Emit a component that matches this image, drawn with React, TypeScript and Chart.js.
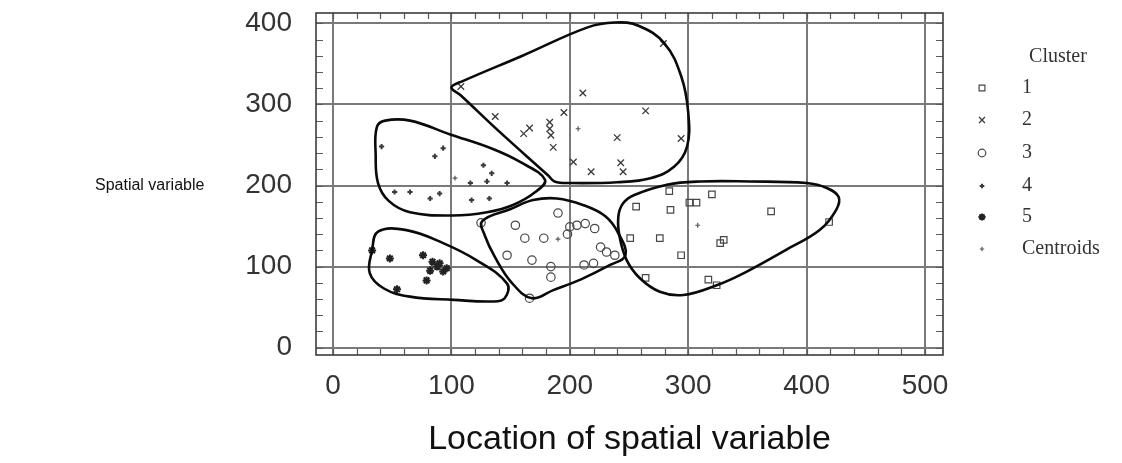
import React, { useEffect, useRef } from 'react';
import { Chart, registerables } from 'chart.js';
import { drawPoint } from 'chart.js/helpers';

Chart.register(...registerables);

// ---------- data ----------
const xTicks = [0, 100, 200, 300, 400, 500];
const yTicks = [0, 100, 200, 300, 400];
const xRange = [-14.4, 515.2];
const yRange = [-9, 412.7];
const minorStep = 20;

const xTitle = 'Location of spatial variable';
const yTitle = 'Spatial variable';
const legendTitle = 'Cluster';
const seriesLabels = ['1', '2', '3', '4', '5', 'Centroids'];

const cluster1 = [
  [256, 174], [285, 170], [284, 193], [301, 179], [307, 179], [320, 189], [370, 168],
  [251, 135], [276, 135], [294, 114], [327, 129], [330, 133], [317, 84], [324, 77],
  [264, 86], [419, 155],
];
const cluster2 = [
  [211, 314], [264, 292], [195, 290], [137, 285], [183, 278], [166, 271], [161, 264],
  [183, 270], [184, 262], [186, 247], [240, 259], [203, 229], [243, 228], [218, 217],
  [245, 217], [294, 258], [108, 322], [279, 375],
];
const cluster3 = [
  [190, 166], [154, 151], [200, 149], [206, 151], [213, 153], [221, 147], [162, 135],
  [178, 135], [198, 140], [226, 124], [147, 114], [168, 108], [184, 100], [184, 87],
  [212, 102], [220, 104], [231, 118], [238, 114], [166, 61], [125, 154],
];
const cluster4 = [
  [41, 248], [93, 246], [86, 236], [127, 225], [134, 215], [116, 203], [130, 205],
  [147, 203], [52, 192], [65, 192], [82, 184], [90, 190], [117, 182], [132, 184],
];
const cluster5 = [
  [48, 110], [76, 114], [84, 106], [88, 100], [93, 94], [79, 83], [54, 72], [33, 120],
  [82, 95], [90, 104], [96, 98],
];
const centroids = [[308, 151], [207, 270], [190, 134], [103, 209], [83, 100]];

const boundary1 = [
  [241, 162], [245, 178], [254, 188], [282, 201], [310, 205], [352, 205], [400, 203],
  [417, 197], [427, 186], [425, 170], [411, 145], [383, 121], [347, 92], [324, 77],
  [296, 65], [276, 69], [259, 86], [248, 108], [242, 137],
];
const boundary2 = [
  [100, 321], [110, 329], [160, 360], [215, 395], [238, 401], [258, 397], [280, 375],
  [294, 335], [300, 290], [299, 248], [288, 223], [268, 209], [240, 204], [200, 203],
  [187, 205], [182, 212], [140, 267], [108, 311],
];
const boundary3 = [
  [126, 156], [150, 171], [169, 182], [189, 184], [211, 176], [230, 162], [241, 141],
  [247, 114], [234, 102], [209, 84], [186, 71], [168, 61], [151, 80], [137, 111], [128, 139],
];
const boundary4 = [
  [37, 272], [44, 280], [65, 280], [99, 263], [135, 245], [158, 229], [179, 207],
  [170, 191], [152, 176], [130, 167], [101, 163], [65, 167], [47, 181], [38, 203], [36, 238],
];
const boundary5 = [
  [38, 143], [62, 145], [93, 129], [121, 108], [147, 79], [145, 61], [135, 57],
  [102, 59], [65, 63], [43, 73], [31, 92], [33, 120],
];

// ---------- styling ----------
const SANS = '"Liberation Sans", Arial, Helvetica, sans-serif';
const SERIF = '"Liberation Serif", "Times New Roman", serif';
const toXY = (arr: number[][]) => arr.map(([x, y]) => ({ x, y }));

const markerStyles = [
  { pointStyle: 'rect', pointRadius: 4.6, pointBorderWidth: 1.2, pointBorderColor: '#474747', pointBackgroundColor: 'rgba(0,0,0,0)' },
  { pointStyle: 'crossRot', pointRadius: 4.6, pointBorderWidth: 1.3, pointBorderColor: '#3a3a3a', pointBackgroundColor: 'rgba(0,0,0,0)' },
  { pointStyle: 'circle', pointRadius: 4.2, pointBorderWidth: 1.2, pointBorderColor: '#474747', pointBackgroundColor: 'rgba(0,0,0,0)' },
  { pointStyle: 'cross', pointRadius: 2.6, pointBorderWidth: 2, pointBorderColor: '#3a3a3a', pointBackgroundColor: 'rgba(0,0,0,0)' },
  { pointStyle: 'star', pointRadius: 4, pointBorderWidth: 2, pointBorderColor: '#222', pointBackgroundColor: '#222' },
  { pointStyle: 'cross', pointRadius: 2.4, pointBorderWidth: 1.2, pointBorderColor: '#555', pointBackgroundColor: 'rgba(0,0,0,0)' },
];

const pointSeries = [cluster1, cluster2, cluster3, cluster4, cluster5, centroids];
const boundaries = [boundary1, boundary2, boundary3, boundary4, boundary5];

const loopPlugin = {
  id: 'loopBoundaries',
  afterDatasetUpdate(chart: any, args: any) {
    const ds = chart.data.datasets[args.index];
    if (!ds || !ds.isBoundary) return;
    const line = args.meta && args.meta.dataset;
    if (!line) return;
    line._loop = true;
    line._fullLoop = true;
    delete line._segments;
    line._path = undefined;
    line._pointsUpdated = false;
    if (typeof line.updateControlPoints === 'function') {
      line.updateControlPoints(chart.chartArea, 'x');
    }
  },
};

const decorPlugin = {
  id: 'decor',
  beforeDatasetsDraw(chart: any) {
    const { ctx, chartArea: a, scales } = chart;
    const xs = scales.x;
    const ys = scales.y;
    ctx.save();
    ctx.strokeStyle = '#5a5a5a';
    ctx.lineWidth = 1.2;
    ctx.beginPath();
    for (let v = Math.ceil(xRange[0] / minorStep) * minorStep; v <= xRange[1]; v += minorStep) {
      const px = Math.round(xs.getPixelForValue(v)) + 0.5;
      ctx.moveTo(px, a.bottom); ctx.lineTo(px, a.bottom - 6);
      ctx.moveTo(px, a.top); ctx.lineTo(px, a.top + 6);
    }
    for (let v = Math.ceil(yRange[0] / minorStep) * minorStep; v <= yRange[1]; v += minorStep) {
      const py = Math.round(ys.getPixelForValue(v)) + 0.5;
      ctx.moveTo(a.left, py); ctx.lineTo(a.left + 7, py);
      ctx.moveTo(a.right, py); ctx.lineTo(a.right - 7, py);
    }
    ctx.stroke();
    ctx.strokeStyle = '#3c3c3c';
    ctx.lineWidth = 1.6;
    ctx.strokeRect(a.left, a.top, a.right - a.left, a.bottom - a.top);
    ctx.restore();
  },
  afterDraw(chart: any) {
    const { ctx, chartArea: a } = chart;
    ctx.save();
    // y title (horizontal, left of axis)
    ctx.fillStyle = '#111';
    ctx.font = `16px ${SANS}`;
    ctx.textAlign = 'left';
    ctx.textBaseline = 'middle';
    ctx.fillText(yTitle, 95, chart.scales.y.getPixelForValue(200));

    // legend
    const legendX = a.right + 39;
    const labelX = a.right + 79;
    ctx.fillStyle = '#333';
    ctx.font = `20px ${SERIF}`;
    ctx.textAlign = 'center';
    ctx.fillText(legendTitle, a.right + 115, 57);
    const rowY = [88, 120, 153, 186, 217, 249];
    seriesLabels.forEach((label, i) => {
      const st = markerStyles[i];
      ctx.save();
      ctx.strokeStyle = st.pointBorderColor;
      ctx.fillStyle = st.pointBackgroundColor;
      ctx.lineWidth = st.pointBorderWidth;
      drawPoint(ctx, { pointStyle: st.pointStyle, radius: st.pointRadius * 0.9, rotation: 0, borderWidth: st.pointBorderWidth } as any, legendX, rowY[i]);
      ctx.restore();
      ctx.fillStyle = '#333';
      ctx.font = `20px ${SERIF}`;
      ctx.textAlign = 'left';
      ctx.textBaseline = 'middle';
      ctx.fillText(label, labelX, rowY[i]);
    });
    ctx.restore();
  },
};

export default function App() {
  const ref = useRef<HTMLCanvasElement | null>(null);

  useEffect(() => {
    if (!ref.current) return;
    const datasets: any[] = [];
    boundaries.forEach((b) => {
      datasets.push({
        isBoundary: true,
        data: toXY(b),
        showLine: true,
        spanGaps: true,
        tension: 0.4,
        borderColor: '#0a0a0a',
        borderWidth: 2.6,
        pointRadius: 0,
        pointHoverRadius: 0,
        fill: false,
      });
    });
    pointSeries.forEach((s, i) => {
      datasets.push({
        label: seriesLabels[i],
        data: toXY(s),
        showLine: false,
        ...markerStyles[i],
      });
    });

    const chart = new Chart(ref.current, {
      type: 'scatter',
      data: { datasets },
      options: {
        animation: false,
        responsive: true,
        maintainAspectRatio: false,
        events: [],
        layout: { padding: { left: 0, right: 179, top: 13, bottom: 0 } },
        plugins: { legend: { display: false }, tooltip: { enabled: false } },
        scales: {
          x: {
            type: 'linear',
            position: 'bottom',
            min: xRange[0],
            max: xRange[1],
            afterBuildTicks: (s: any) => { s.ticks = xTicks.map((v) => ({ value: v })); },
            afterFit: (s: any) => {
              s.height = 108;
              s.paddingLeft = 0; s.paddingRight = 0; s.paddingTop = 0; s.paddingBottom = 0;
            },
            grid: { color: '#7a7a7a', lineWidth: 2, drawTicks: false },
            border: { display: false },
            ticks: {
              padding: 14,
              color: '#333',
              autoSkip: false,
              maxRotation: 0,
              font: { family: SANS, size: 28 },
            },
            title: {
              display: true,
              text: xTitle,
              color: '#111',
              font: { family: SANS, size: 34 },
              padding: { top: 0, bottom: 3 },
            },
          },
          y: {
            type: 'linear',
            min: yRange[0],
            max: yRange[1],
            afterBuildTicks: (s: any) => { s.ticks = yTicks.map((v) => ({ value: v })); },
            afterFit: (s: any) => {
              s.width = 316;
              s.paddingLeft = 0; s.paddingRight = 0; s.paddingTop = 0; s.paddingBottom = 0;
            },
            grid: { color: '#7a7a7a', lineWidth: 2, drawTicks: false },
            border: { display: false },
            ticks: {
              padding: 24,
              color: '#333',
              font: { family: SANS, size: 28 },
            },
          },
        },
      } as any,
      plugins: [loopPlugin, decorPlugin],
    });
    return () => chart.destroy();
  }, []);

  return (
    <div style={{ position: 'fixed', left: 0, top: 0, width: 1122, height: 463, background: '#fff' }}>
      <canvas ref={ref} />
    </div>
  );
}
